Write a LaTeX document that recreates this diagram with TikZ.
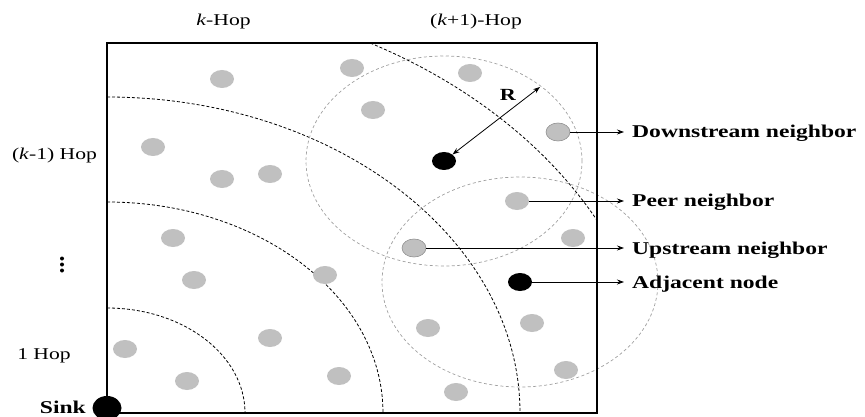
\documentclass[tikz,border=0pt]{standalone}
\usepackage{fontspec}
\setmainfont{Liberation Serif}[FakeStretch=1.31]
\usetikzlibrary{shapes.geometric,arrows.meta}
\definecolor{nodegray}{HTML}{C0C0C0}
\definecolor{rangegray}{HTML}{A0A0A0}
\definecolor{rimgray}{HTML}{909090}
\begin{document}
\begin{tikzpicture}[x=1pt,y=-1pt,
 sensor/.style={ellipse,fill=nodegray,minimum width=24pt,minimum height=18pt,inner sep=0pt},
 rimline/.style={draw=rimgray,line width=0.6pt},
 activenode/.style={ellipse,fill=black,minimum width=24pt,minimum height=18pt,inner sep=0pt},
 hoparc/.style={dash pattern=on 3pt off 2pt,line width=0.8pt},
 rangeline/.style={draw=rangegray,dash pattern=on 3pt off 2.5pt,line width=0.7pt},
 lbl/.style={font=\fontsize{16.5}{18}\selectfont,inner sep=0pt},
 blbl/.style={font=\fontsize{18}{20}\selectfont\bfseries,inner xsep=8pt,inner ysep=0pt,anchor=base west},
 pointerline/.style={-{Stealth[length=7pt,width=5pt]},line width=0.8pt}
]
\useasboundingbox (0,0) rectangle (865,417);

% hop boundaries
\begin{scope}
\clip (107,43) rectangle (597,413);
\draw[hoparc] (107,308) arc[start angle=90,end angle=0,x radius=138pt,y radius=105pt];
\draw[hoparc] (107,202) arc[start angle=90,end angle=0,x radius=276pt,y radius=211pt];
\draw[hoparc] (107,97) arc[start angle=90,end angle=0,x radius=413pt,y radius=316pt];
\draw[hoparc] (107,-8) arc[start angle=90,end angle=0,x radius=551pt,y radius=421pt];
\end{scope}

% transmission ranges
\coordinate (srcc) at (444,161);
\coordinate (adjc) at (520,282);
\draw[rangeline] (srcc) ellipse[x radius=138pt,y radius=105pt];
\draw[rangeline] (adjc) ellipse[x radius=138pt,y radius=105pt];

% field frame
\draw[line width=2.2pt] (107,43) rectangle (597,413);

% sensor nodes
\node[sensor] (g1) at (222,79) {};
\node[sensor] (g2) at (153,147) {};
\node[sensor] (g3) at (222,179) {};
\node[sensor] (g4) at (270,174) {};
\node[sensor] (g5) at (352,68) {};
\node[sensor] (g6) at (470,73) {};
\node[sensor] (g7) at (373,110) {};
\node[sensor,rimline] (ds) at (558,132) {};
\node[sensor] (peer) at (517,201) {};
\node[sensor] (g8) at (573,238) {};
\node[sensor,rimline] (up) at (414,248) {};
\node[sensor] (g9) at (325,275) {};
\node[sensor] (g10) at (173,238) {};
\node[sensor] (g11) at (194,280) {};
\node[sensor] (g12) at (270,338) {};
\node[sensor] (g13) at (125,349) {};
\node[sensor] (g14) at (187,381) {};
\node[sensor] (g15) at (428,328) {};
\node[sensor] (g16) at (532,323) {};
\node[sensor] (g17) at (339,376) {};
\node[sensor] (g18) at (456,392) {};
\node[sensor] (g19) at (566,370) {};
\node[activenode] (src) at (srcc) {};
\node[activenode] (adj) at (adjc) {};
\node[activenode,minimum width=29pt,minimum height=24pt] (sink) at (107,408) {};

% range arrow
\coordinate (rtip) at (540,87);
\draw[{Stealth[length=7pt,width=5pt]}-{Stealth[length=7pt,width=5pt]},line width=0.8pt] (src) -- (rtip);
\node[font=\fontsize{17}{18}\selectfont\bfseries,inner sep=0pt,anchor=base] (rlbl) at (508,101) {R};

% hop labels
\node[lbl,anchor=base] (khop) at (223.5,26) {\textit{k}-Hop};
\node[lbl,anchor=base] (k1hop) at (476,26) {(\textit{k}+1)-Hop};
\node[lbl,anchor=base] (km1hop) at (54.5,160) {(\textit{k}-1) Hop};
\node[lbl,anchor=base] (onehop) at (44,359) {1 Hop};
\fill (62,258.5) circle[radius=2pt];
\fill (62,264.5) circle[radius=2pt];
\fill (62,270.5) circle[radius=2pt];
\node[blbl,inner xsep=0pt,anchor=base east] (sinklbl) at (86,413.5) {Sink};

% legend labels
\node[blbl] (dslbl) at (624,138) {Downstream neighbor};
\node[blbl] (peerlbl) at (624,206) {Peer neighbor};
\node[blbl] (uplbl) at (624,254) {Upstream neighbor};
\node[blbl] (adjlbl) at (624,288) {Adjacent node};
\draw[pointerline] (ds) -- (dslbl.west |- ds);
\draw[pointerline] (peer) -- (peerlbl.west |- peer);
\draw[pointerline] (up) -- (uplbl.west |- up);
\draw[pointerline] (adj) -- (adjlbl.west |- adj);
\end{tikzpicture}
\end{document}
